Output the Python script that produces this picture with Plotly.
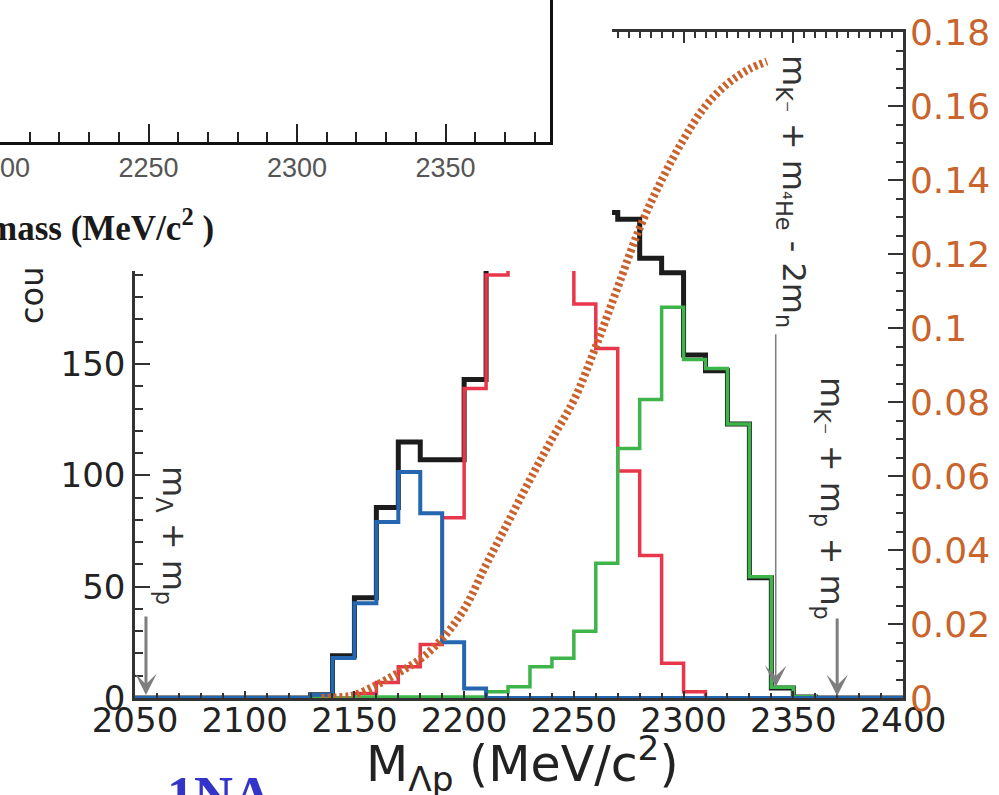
import plotly.graph_objects as go

W, H = 999, 795

# ---------------- data ----------------
bin_edges = [2050, 2060, 2070, 2080, 2090, 2100, 2110, 2120, 2130, 2140,
             2150, 2160, 2170, 2180, 2190, 2200, 2210, 2220, 2230, 2240,
             2250, 2260, 2270, 2280, 2290, 2300, 2310, 2320, 2330, 2340,
             2350, 2360, 2370, 2380, 2390, 2400]

counts_total = [0, 0, 0, 0, 0, 0, 0, 0, 1.5, 19,
                45, 85.5, 115, 107, 107, 143, 194, 248, 279, 258,
                207, 218, 215, 197.5, 191, 154, 147, 123, 54, 4.5,
                0.5, 0, 0, 0, 0]
counts_blue = [0, 0, 0, 0, 0, 0, 0, 0, 1.5, 18,
               42.5, 79, 101.5, 83, 25, 4.3, 0, 0, 0, 0,
               0, 0, 0, 0, 0, 0, 0, 0, 0, 0,
               0, 0, 0, 0, 0]
counts_red = [0, 0, 0, 0, 0, 0, 0, 0, 0, 0,
              2, 7, 14, 24, 81, 139, 190, 243, 265, 240,
              177, 157, 102, 64, 15.6, 2.8, 0, 0, 0, 0,
              0, 0, 0, 0, 0]
counts_green = [0, 0, 0, 0, 0, 0, 0, 0, 0, 0,
                0.5, 0.5, 0.5, 0.5, 0.5, 0.5, 2.8, 5, 14, 17.8,
                30, 60.5, 112, 134, 175.5, 152, 148, 123, 54.5, 4.8,
                0.6, 0, 0, 0, 0]

curve_mev = [2135, 2145, 2150, 2160, 2170, 2180, 2190, 2200, 2210, 2220, 2230,
             2240, 2250, 2260, 2270, 2280, 2290, 2300, 2310, 2320, 2330, 2338]
curve_val = [0, 0.0003, 0.0008, 0.0035, 0.0068, 0.0105, 0.016, 0.024, 0.036,
             0.0475, 0.059, 0.070, 0.0805, 0.095, 0.111, 0.127, 0.140, 0.151,
             0.160, 0.166, 0.170, 0.172]

thresholds = [2055, 2342, 2370]   # m_p+m_Lambda, m_K+m_4He-2m_n, m_K+2m_p

inset_ticks = [2200, 2250, 2300, 2350]


def px(p):
    return p / W


def py(p):
    return 1 - p / H


fig = go.Figure()

series = [
    (counts_total, "#1c1c1c", 5),
    (counts_red, "#e8364a", 3.5),
    (counts_green, "#3db54a", 3.5),
    (counts_blue, "#2566b0", 4),
]
for vals, col, wd in series:
    fig.add_trace(go.Scatter(
        x=bin_edges, y=vals + [vals[-1]], mode="lines",
        line=dict(color=col, width=wd, shape="hv"),
        xaxis="x", yaxis="y", hoverinfo="skip"))

fig.add_trace(go.Scatter(
    x=curve_mev, y=curve_val, mode="lines",
    line=dict(color="#c9622c", width=8, dash="3px,3px", shape="spline"),
    xaxis="x", yaxis="y4", hoverinfo="skip"))

# dummy for top axis
fig.add_trace(go.Scatter(x=[], y=[], xaxis="x4", yaxis="y"))

# white cover (overlaid picture area)
fig.add_trace(go.Scatter(
    x=[-0.01, 1.01, 1.01, -0.01, -0.01], y=[-0.01, -0.01, 1.01, 1.01, -0.01],
    fill="toself", fillcolor="white", mode="lines", line=dict(width=0),
    xaxis="x2", yaxis="y2", hoverinfo="skip"))

# inset frame
fig.add_trace(go.Scatter(x=[], y=[], xaxis="x3", yaxis="y3"))

tickfont = dict(family="DejaVu Sans", size=34, color="#222")
axcol = "#333"

fig.update_layout(
    width=W, height=H,
    margin=dict(l=0, r=0, t=0, b=0, pad=0, autoexpand=False),
    paper_bgcolor="white", plot_bgcolor="white", showlegend=False,
    xaxis=dict(domain=[px(135), px(903)], range=[2050, 2400], anchor="y",
               showline=True, linecolor=axcol, linewidth=2.5,
               ticks="inside", ticklen=7, tickwidth=2, tickcolor=axcol,
               tick0=2050, dtick=50, ticklabelstandoff=-10,
               minor=dict(dtick=10, ticks="inside", ticklen=5, tickwidth=1.5,
                          tickcolor=axcol),
               tickfont=tickfont, showgrid=False, zeroline=False,
               automargin=False),
    yaxis=dict(domain=[py(698), py(32)], range=[0, 299.1], anchor="x",
               showline=True, linecolor=axcol, linewidth=2.5,
               ticks="inside", ticklen=15, tickwidth=2, tickcolor=axcol,
               tick0=0, dtick=50,
               minor=dict(dtick=10, ticks="inside", ticklen=8, tickwidth=1.5,
                          tickcolor=axcol),
               tickfont=tickfont, showgrid=False, zeroline=False,
               automargin=False),
    yaxis4=dict(overlaying="y", side="right", anchor="x", range=[0, 0.18],
                showline=True, linecolor=axcol, linewidth=2.5,
                ticks="inside", ticklen=15, tickwidth=2, tickcolor=axcol,
                tick0=0, dtick=0.02, ticklabelstandoff=-3,
                minor=dict(dtick=0.005, ticks="inside", ticklen=7,
                           tickwidth=1.5, tickcolor=axcol),
                tickfont=dict(family="DejaVu Sans", size=36, color="#c8642c"),
                showgrid=False, zeroline=False, automargin=False),
    xaxis4=dict(overlaying="x", side="top", anchor="y", range=[2050, 2400],
                showline=True, linecolor=axcol, linewidth=2.5,
                ticks="inside", ticklen=11, tickwidth=2, tickcolor=axcol,
                tick0=2050, dtick=50,
                minor=dict(dtick=5, ticks="inside", ticklen=6, tickwidth=1.5,
                           tickcolor=axcol),
                showticklabels=False, showgrid=False, zeroline=False,
                automargin=False),
    xaxis2=dict(domain=[0, px(612)], range=[0, 1], anchor="y2", visible=False,
                automargin=False),
    yaxis2=dict(domain=[py(271), 1], range=[0, 1], anchor="x2", visible=False,
                automargin=False),
    xaxis3=dict(domain=[0, px(550)], range=[2200, 2200 + 550 / 2.97],
                anchor="y3", showline=True, linecolor="#111", linewidth=2.5,
                ticks="inside", ticklen=18, tickwidth=2, tickcolor="#222",
                tickvals=inset_ticks,
                minor=dict(dtick=10, tick0=2200, ticks="inside", ticklen=10,
                           tickwidth=1.5, tickcolor="#222"),
                tickfont=dict(family="Liberation Sans", size=27, color="#555"),
                ticklabeloverflow="allow", showgrid=False, zeroline=False,
                automargin=False),
    yaxis3=dict(domain=[py(142), 1], range=[0, 1], anchor="x3", side="right",
                showline=True, linecolor="#111", linewidth=2.5,
                ticks="", showticklabels=False, showgrid=False,
                zeroline=False, automargin=False),
)

ann = []
# threshold arrows
arrow_specs = [
    (thresholds[0], 1.3, 37.3, 3, 1.2),
    (thresholds[1], 4.9, 164, 1.5, 2.4),
    (thresholds[2], 0.9, 36.4, 3, 1.2),
]
for xv, tip, tail, aw, asz in arrow_specs:
    ann.append(dict(x=xv, y=tip, ax=xv, ay=tail, xref="x", yref="y",
                    axref="x", ayref="y", text="", showarrow=True,
                    arrowhead=3, arrowsize=asz, arrowwidth=aw,
                    arrowcolor="#7e7e7e", standoff=0))

lab_font = dict(family="DejaVu Sans", size=32, color="#333")
C = dict(xref="paper", yref="paper", showarrow=False,
         xanchor="center", yanchor="middle")
ann += [
    dict(C, x=px(172), y=py(535), text="m<sub>Λ</sub> + m<sub>p</sub>",
         textangle=90, font=lab_font),
    dict(C, x=px(792), y=py(191),
         text="m<sub>K⁻</sub> + m<sub>⁴He</sub> - 2m<sub>n</sub>",
         textangle=90, font=lab_font),
    dict(C, x=px(830), y=py(498),
         text="m<sub>K⁻</sub> + m<sub>p</sub> + m<sub>p</sub>",
         textangle=90, font=lab_font),
    dict(C, x=px(32), y=py(296), text="cou", textangle=-90,
         font=dict(family="DejaVu Sans", size=32, color="#222")),
    dict(C, x=px(522), y=py(763), text="M<sub>Λp</sub> (MeV/c<sup>2</sup>)",
         font=dict(family="DejaVu Sans", size=49, color="#222")),
    dict(C, x=px(-14), y=py(226), xanchor="left",
         text="mass (MeV/c<sup>2</sup> )",
         font=dict(family="Liberation Serif", size=35, color="#1a1a1a",
                   weight="bold")),
    dict(C, x=px(165), y=py(764), xanchor="left", yanchor="top", text="1NA",
         font=dict(family="Liberation Serif", size=54, color="#3434c8",
                   weight="bold")),
]
fig.update_layout(annotations=ann)

fig.write_html("out.html")
